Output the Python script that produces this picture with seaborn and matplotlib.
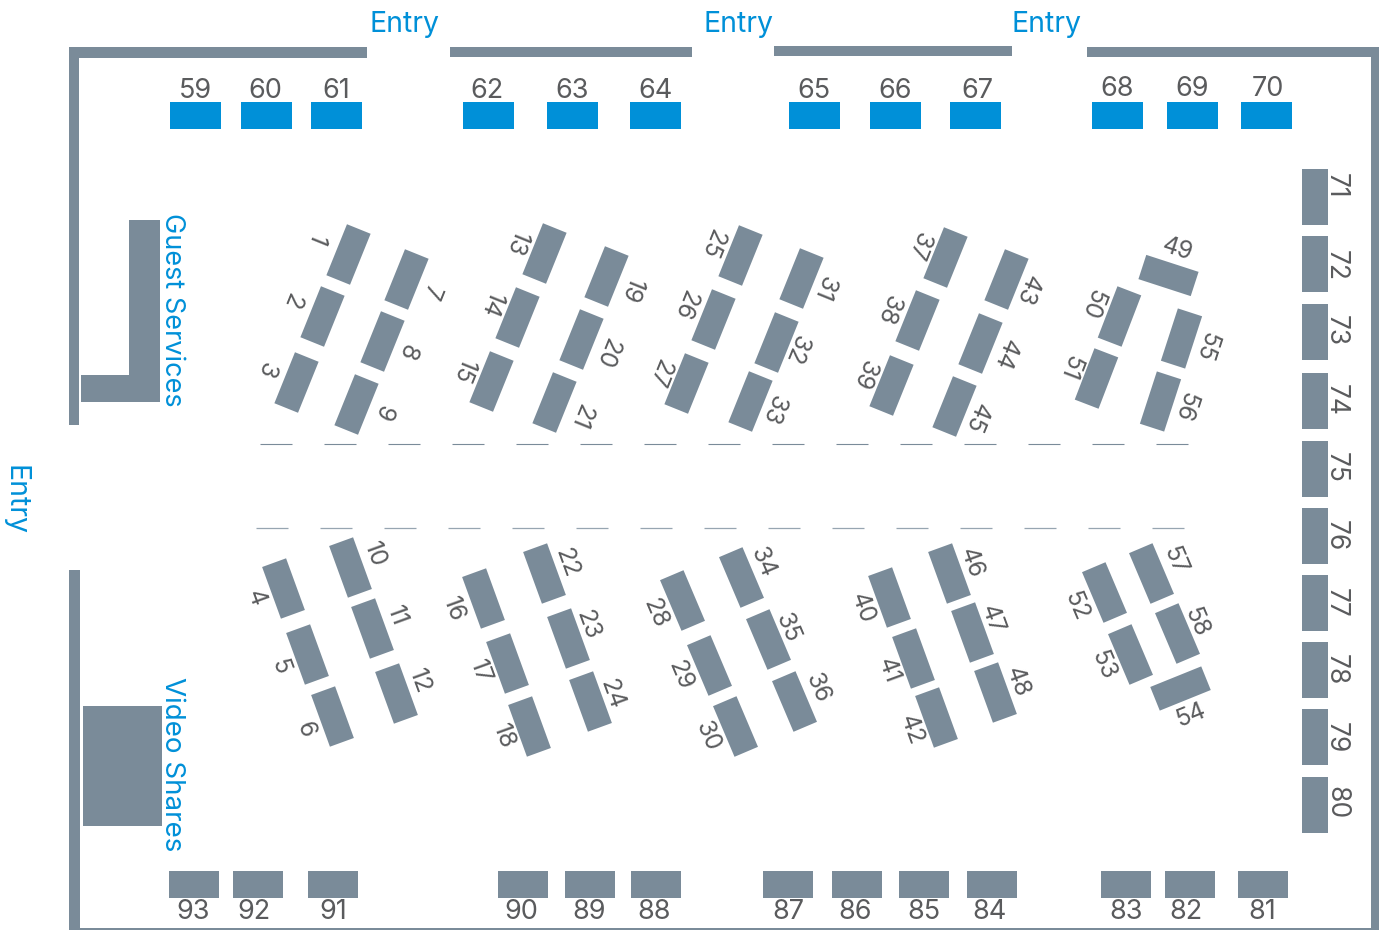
import numpy as np
import pandas as pd
import matplotlib
matplotlib.use("Agg")
import matplotlib.pyplot as plt
import seaborn as sns
from matplotlib.path import Path

sns.set_theme(style="white")
plt.rcParams['font.family'] = ['Inter', 'DejaVu Sans']

SLATE = "#7A8B99"
BLUE = "#0090D8"
TEXT = "#5A5B5D"

# tilted booths 1-58
tilted_ids = list(range(1, 59))
tilted_x = [347.8, 322.2, 295.8, 282.8, 307.3, 331.7, 406.2, 381.5, 355.8, 350.3, 372.3, 396.3,
            544.3, 517.2, 491, 482.7, 506.7, 529.3, 605.5, 580.5, 554.3, 543.5, 567.5, 590,
            739.5, 712.5, 686.3, 681.7, 708.7, 735.3, 800.8, 775.8, 749.7, 740.5, 767.5, 794.2,
            944.5, 917.2, 891.2, 889.3, 912.5, 936.3, 1005.5, 980.3, 954.3, 948.7, 971.5, 994.5,
            1168.2, 1119.2, 1096.3, 1103.5, 1130.3, 1179.5, 1181.2, 1160.3, 1151.3, 1176.7]
tilted_y = [253.7, 316.3, 381.7, 587.8, 653.7, 716.3, 278.7, 340.7, 403.7, 567.2, 627.5, 692.5,
            253, 316.8, 381.5, 597.5, 662.7, 726, 275.8, 339.5, 402.2, 573.3, 637.5, 701.3,
            255, 319, 383.5, 600.3, 665, 725.8, 278, 341.7, 400.7, 576.7, 639, 700.8,
            256.7, 320.5, 385.2, 597.2, 658, 716.8, 279.5, 343.3, 405.7, 572.5, 631.5, 691.8,
            274.7, 316.3, 378.3, 592.3, 653.8, 687.5, 338.2, 400.7, 572.5, 632.7]
tilted_angle = [-22, -22, -22, 20, 20, 20, -22, -22, -22, 20, 20, 20,
                -22, -22, -22, 20, 20, 20, -22, -22, -22, 20, 20, 20,
                -22, -22, -22, 23, 23, 23, -22, -22, -22, 23, 23, 23,
                -22, -22, -22, 20, 20, 20, -22, -22, -22, 20, 20, 20,
                72, -21, -21, 23, 23, -68, -18, -18, 23, 23]
label_x = [318, 294, 267.7, 258, 282.3, 307.3, 432.3, 409, 385, 376.7, 398.3, 422,
           518.3, 493.3, 465.7, 455.7, 482.3, 505.7, 633.3, 609.3, 582.7, 568.3, 590, 613.3,
           714, 687.3, 660.7, 657.3, 682.3, 709.7, 826, 798.3, 775.7, 765, 789.3, 819.3,
           920.7, 890.7, 866.3, 864.7, 890, 913.3, 1029.3, 1007.3, 978.3, 973.3, 994.3, 1019.3,
           1177.7, 1094, 1071.7, 1078, 1104.7, 1189.3, 1208.3, 1186.7, 1176.7, 1198.3]
label_y = [240, 301, 370.7, 597.3, 665.7, 729, 292.7, 352.7, 413.3, 554, 615, 681,
           244.3, 305, 371.7, 608.3, 670.7, 736, 290.7, 353.3, 416.7, 562.3, 624, 693.3,
           244, 305, 373.3, 612.7, 674, 735, 288.7, 350, 410.7, 561.7, 626.7, 687.3,
           246.7, 310, 375, 607.3, 670, 729, 290.7, 355, 418.3, 562.3, 619, 681,
           246.7, 304, 367.7, 605, 664, 713.3, 346.7, 407.3, 560, 621]

# top row (blue)
top_ids = [59, 60, 61, 62, 63, 64, 65, 66, 67, 68, 69, 70]
top_x = [195, 266, 336, 488, 572, 655, 814, 895, 975, 1117, 1192, 1266]
top_label_x = [195, 265, 336, 487, 572, 655, 814, 895, 977, 1117, 1192, 1268]
top_label_y = [88, 88, 88, 88, 88, 88, 88, 88, 88, 86, 86, 86]

# right column
right_ids = [71, 72, 73, 74, 75, 76, 77, 78, 79, 80]
right_y = [197, 264, 332, 401, 469, 536, 603, 670, 737, 805]
right_label_y = [186, 265, 330.5, 400, 467.8, 536, 603, 670, 738, 803]

# bottom row
bottom_ids = [93, 92, 91, 90, 89, 88, 87, 86, 85, 84, 83, 82, 81]
bottom_x = [194, 258, 333, 523, 590, 656, 788, 857, 924, 992, 1126, 1190, 1263]
bottom_label_x = [193, 254, 333, 521, 589, 654, 788, 855, 924, 989, 1126, 1186, 1262]

# walls and rooms: left, right, top, bottom
wall_left = [69, 69, 450, 774, 1087, 1372, 69, 69, 129, 81, 83]
wall_right = [80, 367, 693, 1012, 1379, 1379, 80, 1379, 160, 160, 162]
wall_top = [47, 47, 47, 46, 47, 47, 570, 927, 220, 374, 706]
wall_bottom = [425, 58, 58, 57, 58, 930, 930, 930, 401, 401, 826]

# aisle dashes
dash_upper = [260, 324, 388, 452, 516, 580, 644, 708, 772, 836, 900, 964, 1028, 1092, 1156]
dash_lower = [255.5, 319.5, 383.5, 447.5, 511.5, 575.5, 639.5, 703.5, 767.5, 831.5, 895.5, 959.5, 1023.5, 1087.5, 1151.5]

# 2. TABLES

booths = pd.DataFrame({'x': tilted_x, 'y': tilted_y, 'w': 25.5, 'h': 55, 'angle': tilted_angle, 'color': SLATE})
booths = pd.concat([
  booths,
  pd.DataFrame({'x': top_x, 'y': 115.5, 'w': 51, 'h': 27, 'angle': 0, 'color': BLUE}),
  pd.DataFrame({'x': 1314.5, 'y': right_y, 'w': 27, 'h': 56, 'angle': 0, 'color': SLATE}),
  pd.DataFrame({'x': bottom_x, 'y': 883.5, 'w': 50, 'h': 27, 'angle': 0, 'color': SLATE}),
], ignore_index=True)

walls = pd.DataFrame({'left': wall_left, 'right': wall_right, 'top': wall_top, 'bottom': wall_bottom})
walls['x'] = (walls['left'] + walls['right']) / 2 - 0.25
walls['y'] = (walls['top'] + walls['bottom']) / 2
walls['w'] = walls['right'] - walls['left']
walls['h'] = walls['bottom'] - walls['top']
walls['angle'] = 0
walls['color'] = SLATE

marks = pd.concat([booths, walls[['x', 'y', 'w', 'h', 'angle', 'color']]], ignore_index=True)

# 3. DRAW

fig = plt.figure(figsize=(13.79, 9.30), dpi=100)
ax = fig.add_axes([0, 0, 1, 1])


def rect_marker(w, h, angle):
  t = np.radians(angle)
  corners = np.array([[-w / 2, -h / 2], [w / 2, -h / 2], [w / 2, h / 2], [-w / 2, h / 2], [-w / 2, -h / 2]])
  rot = np.array([[np.cos(t), -np.sin(t)], [np.sin(t), np.cos(t)]])
  return Path(corners @ rot.T, closed=True)


# one scatter per shape, marker size keeps 1 unit = 1 pixel
for (w, h, angle, color), group in marks.groupby(['w', 'h', 'angle', 'color']):
  path = rect_marker(w, h, angle)
  size = (72 / fig.dpi * 2 * np.abs(path.vertices).max()) ** 2
  sns.scatterplot(data=group, x='x', y='y', marker=path, s=size, color=color, linewidth=0, legend=False, ax=ax)

ax.hlines([444] * len(dash_upper), dash_upper, np.array(dash_upper) + 32, color=SLATE, lw=0.8)
ax.hlines([528] * len(dash_lower), dash_lower, np.array(dash_lower) + 32, color="#97A5B1", lw=0.9)

NUM = dict(rotation_mode='anchor', ha='center', va='center_baseline', color=TEXT)
NAME = dict(rotation_mode='anchor', ha='center', va='center_baseline', color=BLUE)

# booth numbers
for num, x, y, angle in zip(tilted_ids, label_x, label_y, tilted_angle):
  rot = 22 if num == 54 else angle - 90
  ax.text(x, y, str(num), rotation=rot, fontsize=17.5, **NUM)
for num, x, y in zip(top_ids, top_label_x, top_label_y):
  ax.text(x, y, str(num), fontsize=19.5, **NUM)
for num, y in zip(right_ids, right_label_y):
  ax.text(1339, y, str(num), rotation=-90, fontsize=19, **NUM)
for num, x in zip(bottom_ids, bottom_label_x):
  ax.text(x, 909, str(num), fontsize=19.5, **NUM)

# room names
for x, y in [(404, 21), (739, 21), (1046, 21)]:
  ax.text(x, y, "Entry", fontsize=20.5, **NAME)
ax.text(18, 500, "Entry", rotation=-90, fontsize=20.5, **NAME)
ax.text(175, 310, "Guest Services", rotation=-90, fontsize=19.5, **NAME)
ax.text(175, 764, "Video Shares", rotation=-90, fontsize=20, **NAME)

ax.set_xlim(0, 1379)
ax.set_ylim(930, 0)
ax.axis('off')

plt.savefig("out.png", dpi=100)
plt.close()
